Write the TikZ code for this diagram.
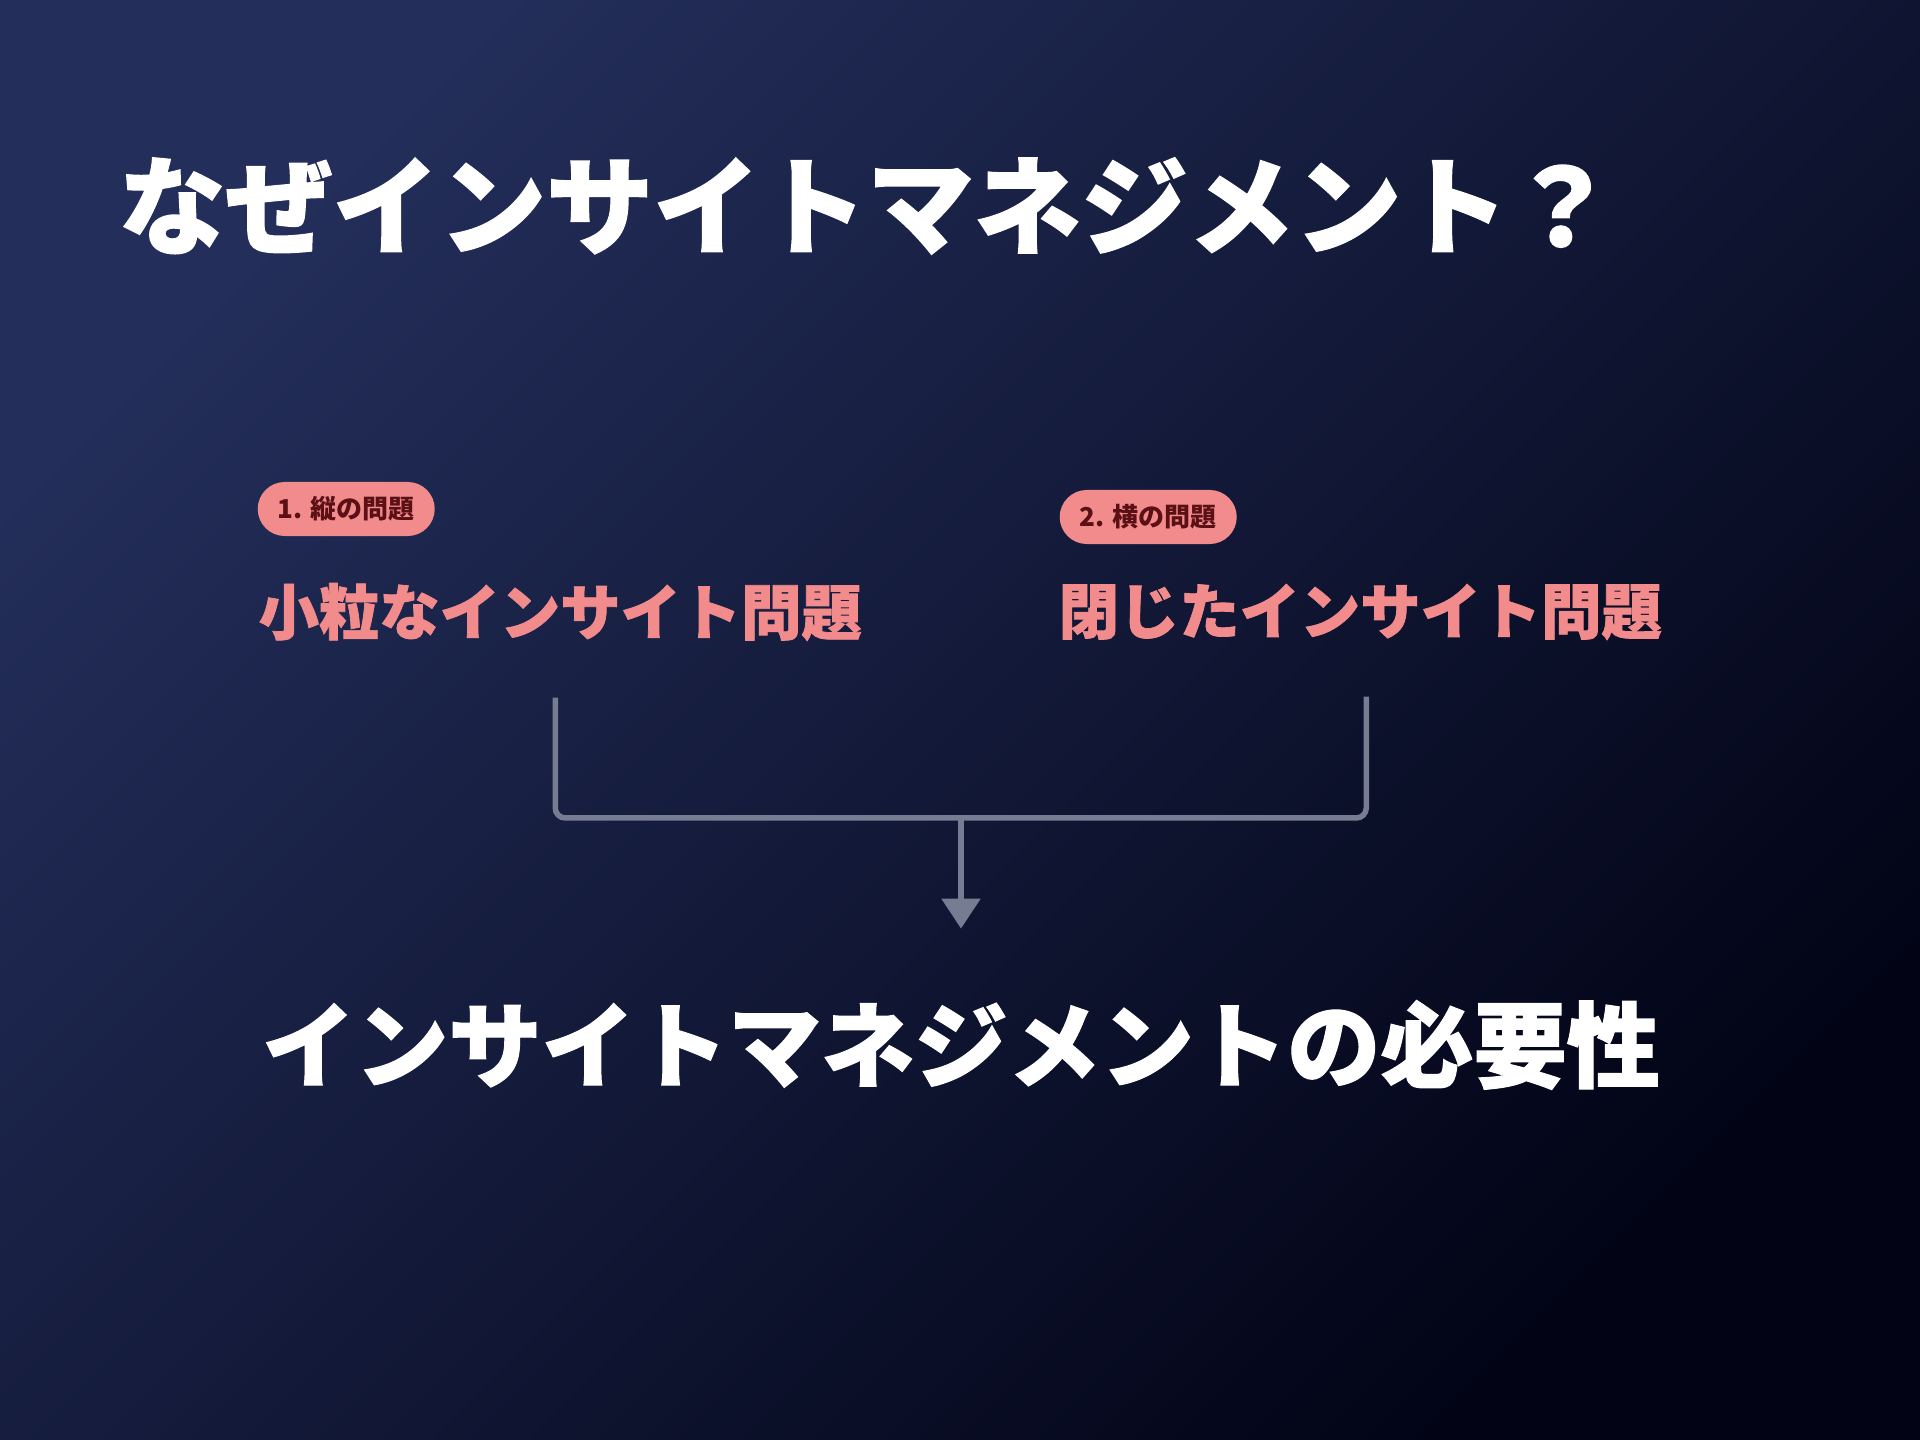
\documentclass[tikz,border=0pt]{standalone}
\usepackage{fontspec}
\newfontfamily\jpfont{Noto Sans CJK JP}
\newfontfamily\jpblack{Noto Sans CJK JP Black}[FakeBold=1.2]
\usepackage{xcolor}
\usepackage{tikz}
\usetikzlibrary{positioning, arrows.meta, calc}

\definecolor{bgtop}{HTML}{232E5A}
\definecolor{bgbottom}{HTML}{020416}
\definecolor{salmon}{HTML}{F28B8B}
\definecolor{badgetext}{HTML}{5A1015}
\definecolor{linkgray}{HTML}{767C92}

\begin{document}
\begin{tikzpicture}[x=0.01cm, y=-0.01cm,
    headline/.style={inner sep=0pt, text=white, font=\jpblack\fontsize{30.4}{36}\selectfont},
    badge/.style={anchor=west, fill=salmon, text=badgetext, rounded corners=0.27cm,
        minimum height=0.54cm, inner xsep=0.2cm, font=\jpfont\bfseries\fontsize{7.4}{9}\selectfont},
    problem/.style={anchor=west, inner sep=0pt, text=salmon, font=\jpblack\fontsize{17.15}{20}\selectfont},
    result/.style={inner sep=0pt, text=white, font=\jpblack\fontsize{26.5}{32}\selectfont},
    link/.style={draw=linkgray, line width=0.055cm, rounded corners=0.1cm}
]
\useasboundingbox (0,0) rectangle (1920,1440);

% Background
\shade[top color=bgtop, bottom color=bgbottom, shading angle=45] (0,0) rectangle (1920,1440);

% Title
\node[headline, anchor=west] (title) at (118,206) {なぜインサイトマネジメント？};

% Problems
\node[badge] (tag1) at (257,509) {1. 縦の問題};
\node[badge] (tag2) at (1059,517) {2. 横の問題};
\node[problem] (sub1) at (258,612) {小粒なインサイト問題};
\node[problem] (sub2) at (1058,612) {閉じたインサイト問題};

% Conclusion
\node[result] (need) at (961,1045) {インサイトマネジメントの必要性};

% Connectors
\coordinate (join) at (961,818);
\draw[link] ([xshift=-0.05cm, yshift=-0.56cm]sub1.south) |- (join) -| ([xshift=0.06cm, yshift=-0.56cm]sub2.south);
\draw[link, -{Triangle[width=0.38cm, length=0.3cm]}] (join) -- ([yshift=0.71cm]need.north);

\end{tikzpicture}
\end{document}
